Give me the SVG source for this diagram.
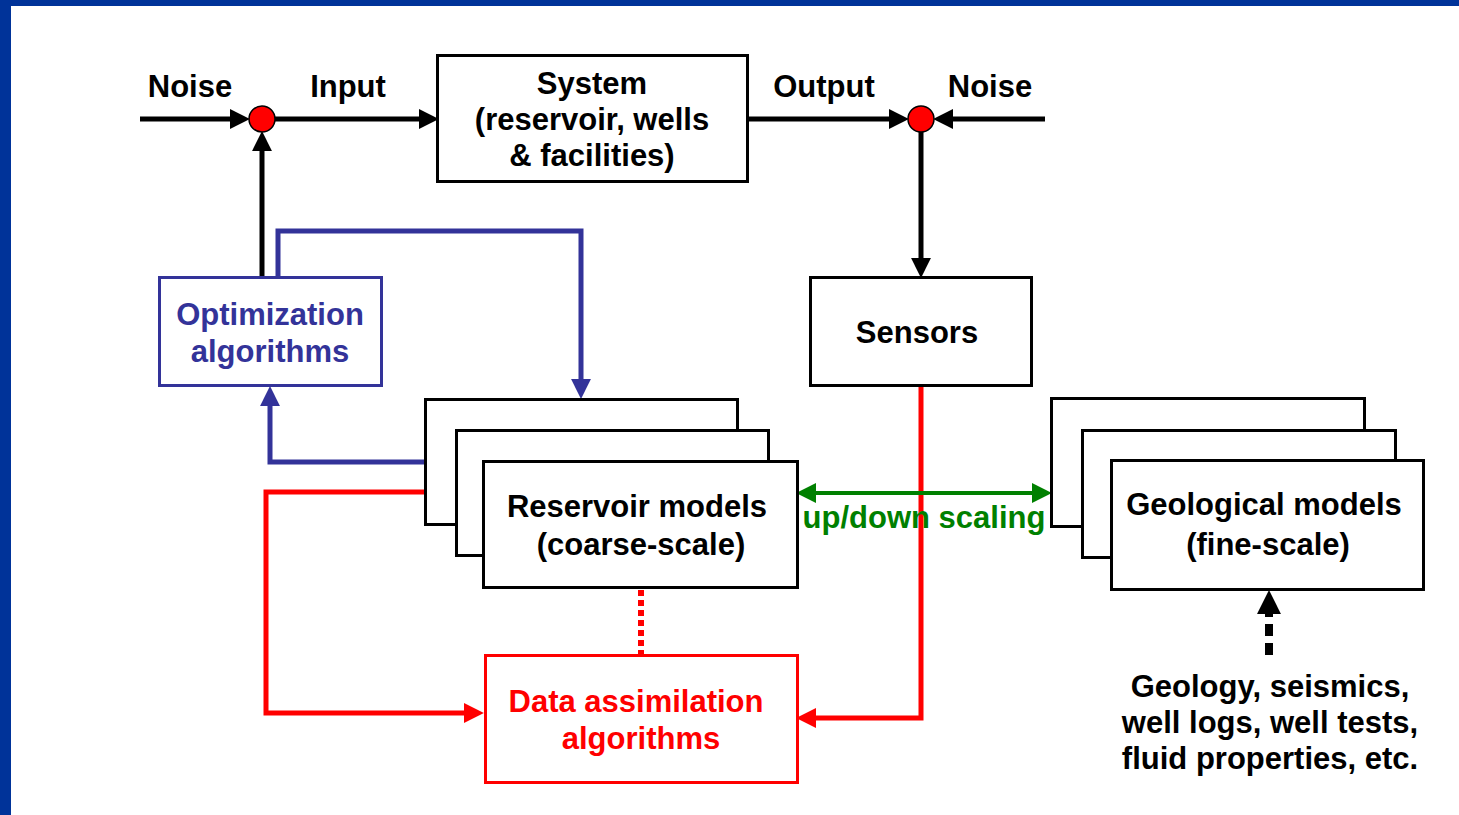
<svg xmlns="http://www.w3.org/2000/svg" width="1459" height="815" viewBox="0 0 1459 815">
<style>
text{font-family:"Liberation Sans",Arial,sans-serif;font-weight:bold;font-size:31px;text-anchor:middle}
.k{fill:#000}.b{fill:#333399}.r{fill:#FF0000}.g{fill:#008000}
.box{fill:#fff;stroke:#000;stroke-width:3}
.c{fill:none;stroke-width:5;stroke-linejoin:miter}
</style>
<defs>
<marker id="ak" markerUnits="userSpaceOnUse" markerWidth="20" markerHeight="20" refX="1" refY="9" orient="auto-start-reverse" viewBox="0 0 18 18"><path d="M0,0 L18,9 L0,18 z" fill="#000"/></marker>
<marker id="ab" markerUnits="userSpaceOnUse" markerWidth="20" markerHeight="20" refX="1" refY="9" orient="auto-start-reverse" viewBox="0 0 18 18"><path d="M0,0 L18,9 L0,18 z" fill="#333399"/></marker>
<marker id="ar" markerUnits="userSpaceOnUse" markerWidth="20" markerHeight="20" refX="1" refY="9" orient="auto-start-reverse" viewBox="0 0 18 18"><path d="M0,0 L18,9 L0,18 z" fill="#FF0000"/></marker>
<marker id="ag" markerUnits="userSpaceOnUse" markerWidth="20" markerHeight="20" refX="1" refY="9" orient="auto-start-reverse" viewBox="0 0 18 18"><path d="M0,0 L18,9 L0,18 z" fill="#008000"/></marker>
<marker id="akb" markerUnits="userSpaceOnUse" markerWidth="24" markerHeight="24" refX="1" refY="11" orient="auto" viewBox="0 0 22 22"><path d="M0,0 L22,11 L0,22 z" fill="#000"/></marker>
</defs>
<rect x="0" y="0" width="1459" height="815" fill="#fff"/>
<rect x="0" y="0" width="1459" height="6" fill="#003399"/>
<rect x="0" y="0" width="11" height="815" fill="#003399"/>

<g id="connectors">
<path class="c" stroke="#000" d="M140,119 H231" marker-end="url(#ak)"/>
<path class="c" stroke="#000" d="M275,119 H420" marker-end="url(#ak)"/>
<path class="c" stroke="#000" d="M262,277 V150" marker-end="url(#ak)"/>
<path class="c" stroke="#000" d="M748,119 H890" marker-end="url(#ak)"/>
<path class="c" stroke="#000" d="M1045,119 H952" marker-end="url(#ak)"/>
<path class="c" stroke="#000" d="M921,132 V259" marker-end="url(#ak)"/>
<path class="c" stroke="#333399" d="M278,277 V231 H581 V380" marker-end="url(#ab)"/>
<path class="c" stroke="#333399" d="M425,462 H270 V405" marker-end="url(#ab)"/>
<path class="c" stroke="#FF0000" d="M425,492 H266 V713 H465" marker-end="url(#ar)"/>
<path class="c" stroke="#FF0000" d="M921,386 V718 H815" marker-end="url(#ar)"/>
<path fill="none" stroke="#FF0000" stroke-width="6" stroke-dasharray="6 4" d="M641,590 V655"/>
<path fill="none" stroke="#008000" stroke-width="4" d="M815,493 H1033" marker-start="url(#ag)" marker-end="url(#ag)"/>
<path fill="none" stroke="#000" stroke-width="8" stroke-dasharray="12 7" d="M1269,655 V613" marker-end="url(#akb)"/>
</g>

<g id="junction-in"><circle cx="262" cy="119" r="13" fill="#FF0000" stroke="#000" stroke-width="1.5"/></g>
<g id="junction-out"><circle cx="921" cy="119" r="13" fill="#FF0000" stroke="#000" stroke-width="1.5"/></g>

<g id="label-noise-in"><text class="k" x="190" y="97">Noise</text></g>
<g id="label-input"><text class="k" x="348" y="97">Input</text></g>
<g id="label-output"><text class="k" x="824" y="97">Output</text></g>
<g id="label-noise-out"><text class="k" x="990" y="97">Noise</text></g>

<g id="system">
<rect class="box" x="437.5" y="55.5" width="310" height="126"/>
<text class="k" x="592" y="94">System</text>
<text class="k" x="592" y="130">(reservoir, wells</text>
<text class="k" x="592" y="166">&amp; facilities)</text>
</g>

<g id="optimization">
<rect x="159.5" y="277.5" width="222" height="108" fill="#fff" stroke="#333399" stroke-width="3"/>
<text class="b" x="270" y="325">Optimization</text>
<text class="b" x="270" y="362">algorithms</text>
</g>

<g id="sensors">
<rect class="box" x="810.5" y="277.5" width="221" height="108"/>
<text class="k" x="917" y="343">Sensors</text>
</g>

<g id="reservoir-models">
<rect class="box" x="425.5" y="399.5" width="312" height="125"/>
<rect class="box" x="456.5" y="430.5" width="312" height="125"/>
<rect class="box" x="483.5" y="461.5" width="314" height="126"/>
<text class="k" x="637" y="517">Reservoir models</text>
<text class="k" x="641" y="555">(coarse-scale)</text>
</g>

<g id="scaling-label"><text class="g" x="924" y="528">up/down scaling</text></g>

<g id="geological-models">
<rect class="box" x="1051.5" y="398.5" width="313" height="128"/>
<rect class="box" x="1082.5" y="430.5" width="313" height="127"/>
<rect class="box" x="1111.5" y="460.5" width="312" height="129"/>
<text class="k" x="1264" y="515">Geological models</text>
<text class="k" x="1268" y="555">(fine-scale)</text>
</g>

<g id="data-assimilation">
<rect x="485.5" y="655.5" width="312" height="127" fill="#fff" stroke="#FF0000" stroke-width="3"/>
<text class="r" x="636" y="712">Data assimilation</text>
<text class="r" x="641" y="749">algorithms</text>
</g>

<g id="data-sources">
<text class="k" x="1270" y="697">Geology, seismics,</text>
<text class="k" x="1270" y="733">well logs, well tests,</text>
<text class="k" x="1270" y="769">fluid properties, etc.</text>
</g>
</svg>
